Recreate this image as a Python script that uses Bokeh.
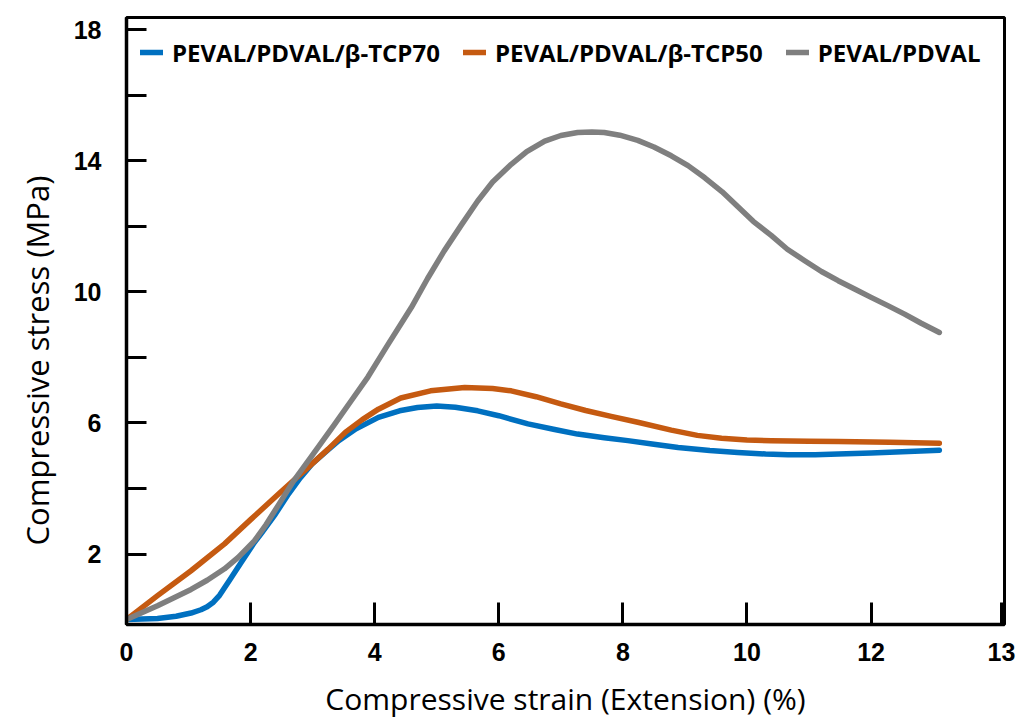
from bokeh.plotting import figure
from bokeh.models import Range1d, FixedTicker, Legend, LegendItem, Title
from bokeh.embed import file_html
from bokeh.resources import INLINE

# Series
strain_tcp70 = [0, 0.5, 0.8, 1.04, 1.2, 1.3, 1.4, 1.5, 1.58, 1.65, 1.85, 2.06, 2.18, 2.4, 2.61,
                2.8, 2.99, 3.2, 3.42, 3.7, 4.06, 4.4, 4.69, 5.0, 5.3, 5.66, 6.0, 6.47, 6.9,
                7.27, 7.7, 8.08, 8.5, 8.89, 9.4, 9.85, 10.3, 10.66, 11.1, 11.47, 12.0, 12.5, 13.1]
stress_tcp70 = [0, 0.03, 0.1, 0.2, 0.3, 0.39, 0.53, 0.74, 0.97, 1.17, 1.75, 2.35, 2.65, 3.22, 3.83,
                4.32, 4.75, 5.1, 5.46, 5.82, 6.17, 6.37, 6.47, 6.52, 6.48, 6.37, 6.22, 5.97, 5.8,
                5.66, 5.55, 5.46, 5.35, 5.25, 5.16, 5.10, 5.05, 5.03, 5.03, 5.05, 5.08, 5.12, 5.17]

strain_tcp50 = [0, 0.5, 1.04, 1.58, 2.0, 2.45, 2.99, 3.25, 3.53, 3.8, 4.06, 4.42, 4.9, 5.45,
                5.9, 6.2, 6.6, 7.0, 7.4, 7.81, 8.24, 8.78, 9.2, 9.59, 10.0, 10.39, 11.0,
                11.47, 12.3, 13.1]
stress_tcp50 = [0, 0.73, 1.49, 2.31, 3.05, 3.83, 4.75, 5.2, 5.72, 6.1, 6.42, 6.76, 6.98, 7.08,
                7.05, 6.98, 6.8, 6.58, 6.38, 6.2, 6.02, 5.78, 5.62, 5.53, 5.48, 5.46, 5.44,
                5.43, 5.41, 5.38]

strain_pure = [0, 0.5, 1.04, 1.3, 1.58, 1.8, 2.06, 2.25, 2.45, 2.7, 2.99, 3.35, 3.63, 3.89,
               4.2, 4.59, 4.85, 5.12, 5.4, 5.66, 5.9, 6.2, 6.45, 6.74, 7.0, 7.27, 7.5, 7.7,
               7.95, 8.24, 8.5, 8.78, 9.05, 9.32, 9.6, 9.85, 10.1, 10.39, 10.65, 10.93, 11.2,
               11.47, 11.75, 12.0, 12.27, 12.54, 12.8, 13.1]
stress_pure = [0, 0.42, 0.92, 1.2, 1.55, 1.9, 2.4, 2.9, 3.5, 4.25, 5.0, 5.95, 6.7, 7.4,
               8.35, 9.52, 10.4, 11.25, 12.05, 12.77, 13.35, 13.89, 14.28, 14.6, 14.77, 14.86,
               14.88, 14.86, 14.78, 14.62, 14.42, 14.15, 13.85, 13.48, 13.05, 12.6, 12.15, 11.72,
               11.3, 10.95, 10.62, 10.34, 10.07, 9.83, 9.58, 9.32, 9.05, 8.76]

series_names = ["PEVAL/PDVAL/\u03b2-TCP70", "PEVAL/PDVAL/\u03b2-TCP50", "PEVAL/PDVAL"]

x_ticks = [0, 2, 4, 6, 8, 10, 12, 14.1]
x_tick_labels = ["0", "2", "4", "6", "8", "10", "12", "13"]
y_ticks = [2, 6, 10, 14, 18]
y_minor_ticks = [4, 8, 12, 16]

p = figure(width=1021, height=726, output_backend="svg", toolbar_location=None,
           x_range=Range1d(0, 14.15), y_range=Range1d(-0.15, 18.37),
           min_border_left=126, min_border_right=17, min_border_top=17, min_border_bottom=102)
p.grid.visible = False
p.outline_line_color = "black"
p.outline_line_width = 3
p.background_fill_color = "white"
p.border_fill_color = "white"

r1 = p.line(strain_tcp70, stress_tcp70, line_color="#0070C0", line_width=5.5,
            line_join="round", line_cap="round")
r2 = p.line(strain_tcp50, stress_tcp50, line_color="#C55A11", line_width=5.5,
            line_join="round", line_cap="round")
r3 = p.line(strain_pure, stress_pure, line_color="#7F7F7F", line_width=5.5,
            line_join="round", line_cap="round")

legend = Legend(items=[LegendItem(label=series_names[0], renderers=[r1]),
                       LegendItem(label=series_names[1], renderers=[r2]),
                       LegendItem(label=series_names[2], renderers=[r3])],
                location="top_left", orientation="horizontal")
legend.border_line_color = None
legend.background_fill_alpha = 0
legend.label_text_font = "Open Sans"
legend.label_text_font_style = "bold"
legend.label_text_font_size = "24px"
legend.label_text_color = "black"
legend.glyph_width = 23
legend.glyph_height = 42
legend.label_height = 42
legend.label_standoff = 9
legend.spacing = 23
legend.margin = 14
legend.padding = 0
p.add_layout(legend)

xa = p.xaxis[0]
xa.ticker = FixedTicker(ticks=x_ticks)
xa.major_label_overrides = dict(zip(x_ticks, x_tick_labels))
xa.axis_label = "Compressive strain (Extension) (%)"
ya = p.yaxis[0]
ya.ticker = FixedTicker(ticks=y_ticks, minor_ticks=y_minor_ticks)

for ax in (xa, ya):
    ax.axis_line_color = "black"
    ax.axis_line_width = 3.5
    ax.major_tick_line_color = "black"
    ax.major_tick_line_width = 3
    ax.major_tick_out = 0
    ax.major_label_text_font = "Liberation Sans"
    ax.major_label_text_font_style = "bold"
    ax.major_label_text_font_size = "25px"
    ax.major_label_text_color = "black"
    ax.axis_label_text_font = "Open Sans"
    ax.axis_label_text_font_style = "normal"
    ax.axis_label_text_font_size = "30px"
    ax.axis_label_text_color = "black"

xa.major_tick_in = 22
xa.minor_tick_line_color = None
xa.major_label_standoff = 18
xa.axis_label_standoff = 14

ya.major_tick_in = 20
ya.minor_tick_in = 20
ya.minor_tick_out = 0
ya.minor_tick_line_color = "black"
ya.minor_tick_line_width = 3
ya.major_label_standoff = 25

# y-axis title, placed lower than the frame centre as in the reference
ytitle = Title(text="Compressive stress (MPa)", align="left", offset=79,
               text_font="Open Sans", text_font_style="normal", text_font_size="31px",
               text_color="black", standoff=26)
p.add_layout(ytitle, "left")

open("out.html", "w").write(file_html(p, INLINE))
